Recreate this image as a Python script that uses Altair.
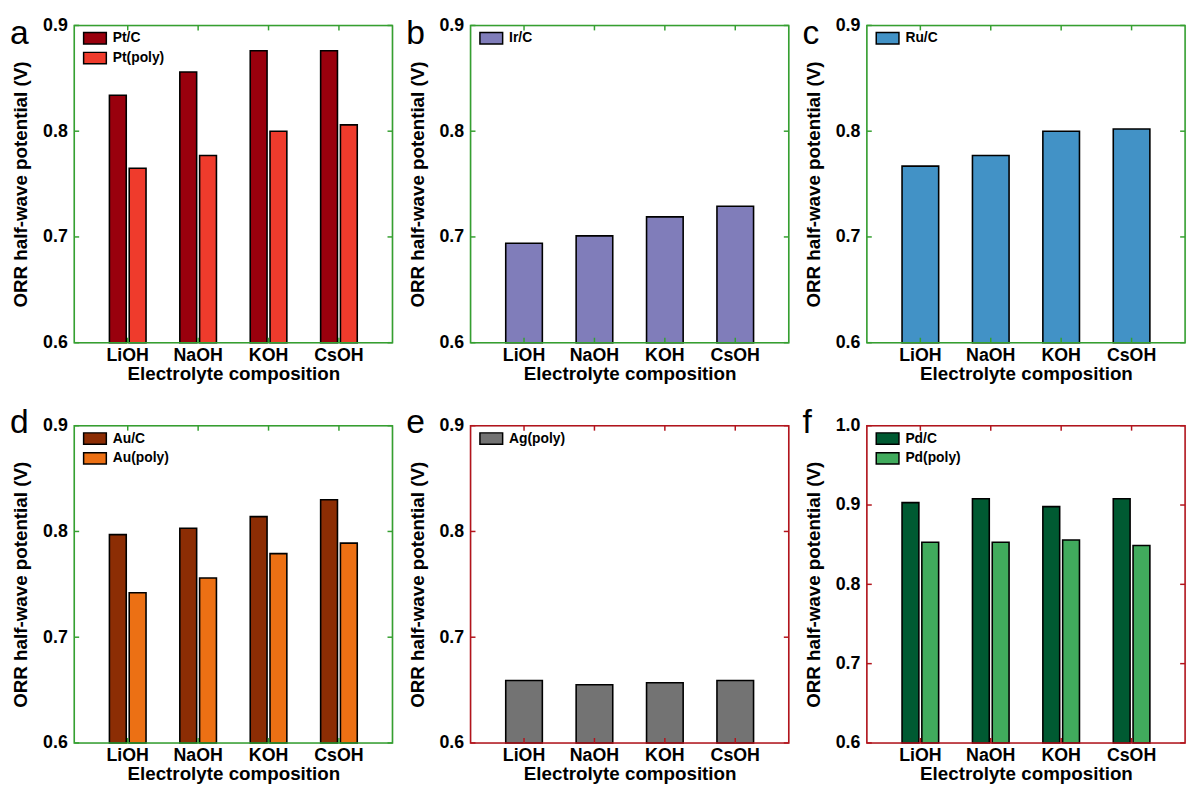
import altair as alt
import pandas as pd

# ---------------- data ----------------
cats = ["LiOH", "NaOH", "KOH", "CsOH"]

pt_c = [0.834, 0.856, 0.876, 0.876]
pt_poly = [0.765, 0.777, 0.800, 0.806]
ir_c = [0.694, 0.701, 0.719, 0.729]
ru_c = [0.767, 0.777, 0.800, 0.802]
au_c = [0.797, 0.803, 0.814, 0.830]
au_poly = [0.742, 0.756, 0.779, 0.789]
ag_poly = [0.659, 0.655, 0.657, 0.659]
pd_c = [0.903, 0.908, 0.898, 0.908]
pd_poly = [0.853, 0.853, 0.856, 0.849]

y_ticks_09 = [0.6, 0.7, 0.8, 0.9]
y_ticks_10 = [0.6, 0.7, 0.8, 0.9, 1.0]

FONT = "Liberation Sans"
W, H = 322, 321
GREEN = "#35A030"
RED = "#B3141C"


def panel(letter, series, colors, yticks, frame_color, letter_y):
    names = [s[0] for s in series]
    rows = []
    for name, vals in series:
        for c, v in zip(cats, vals):
            rows.append({"Electrolyte": c, "Catalyst": name, "V": v})
    df = pd.DataFrame(rows)

    xs = alt.Scale(domain=cats, paddingInner=0.48, paddingOuter=0.5)
    ys = alt.Scale(domain=[yticks[0], yticks[-1]], zero=False, nice=False)
    xaxis = alt.Axis(
        title="Electrolyte composition", labelAngle=0, labelFont=FONT,
        labelFontSize=18, labelFontWeight="bold", labelColor="black",
        labelPadding=4, ticks=False, tickSize=0, domain=False, grid=False,
        titleFont=FONT, titleFontSize=19, titleFontWeight="bold",
        titleColor="black", titlePadding=0,
    )
    yaxis = alt.Axis(
        title="ORR half-wave potential (V)", values=yticks, format=".1f",
        labelFont=FONT, labelFontSize=18, labelFontWeight="bold",
        labelColor="black", labelPadding=7, ticks=False, tickSize=0,
        domain=False, grid=False, titleFont=FONT, titleFontSize=19,
        titleFontWeight="bold", titleColor="black", titlePadding=12,
    )
    xenc = alt.X("Electrolyte:N", sort=cats, scale=xs, axis=xaxis)
    yenc = alt.Y("V:Q", scale=ys, axis=yaxis)

    enc = dict(
        x=xenc,
        y=yenc,
        y2=alt.datum(yticks[0]),
        color=alt.Color(
            "Catalyst:N",
            scale=alt.Scale(domain=names, range=colors),
            legend=alt.Legend(
                title=None, orient="none", legendX=14, legendY=6,
                symbolType="M-2,-1H2V1H-2Z", symbolSize=132,
                symbolStrokeColor="black", symbolStrokeWidth=1.5,
                symbolOpacity=1, labelFont=FONT, labelFontSize=14,
                labelFontWeight="bold", labelColor="black", labelOffset=11,
                rowPadding=2, padding=0,
            ),
        ),
    )
    if len(names) > 1:
        enc["xOffset"] = alt.XOffset(
            "Catalyst:N", sort=names,
            scale=alt.Scale(domain=names, paddingInner=0.15, paddingOuter=0),
        )
    bars = alt.Chart(df).mark_bar(stroke="black", strokeWidth=1.6).encode(**enc)

    one = pd.DataFrame({"k": [0]})
    frame = alt.Chart(one).mark_rect(
        fillOpacity=0, stroke=frame_color, strokeWidth=1.6
    ).encode(x=alt.value(0), x2=alt.value(W), y=alt.value(0), y2=alt.value(H))

    ydf = pd.DataFrame({"V": yticks})
    xdf = pd.DataFrame({"Electrolyte": cats})
    tk = dict(color=frame_color, strokeWidth=1.5)
    lt = alt.Chart(ydf).mark_rule(**tk).encode(y=yenc, x=alt.value(0), x2=alt.value(5))
    rt = alt.Chart(ydf).mark_rule(**tk).encode(y=yenc, x=alt.value(W - 5), x2=alt.value(W))
    tt = alt.Chart(xdf).mark_rule(**tk).encode(x=xenc, y=alt.value(0), y2=alt.value(5))
    bt = alt.Chart(xdf).mark_rule(**tk).encode(x=xenc, y=alt.value(H - 5), y2=alt.value(H))

    lab = alt.Chart(one).mark_text(
        text=letter, font=FONT, fontSize=34, align="left",
        baseline="alphabetic", color="black",
    ).encode(x=alt.value(-65), y=alt.value(letter_y))

    return alt.layer(bars, lt, rt, tt, bt, frame, lab).properties(width=W, height=H)


pa = panel("a", [("Pt/C", pt_c), ("Pt(poly)", pt_poly)], ["#99000D", "#EF3B2C"], y_ticks_09, GREEN, 19)
pb = panel("b", [("Ir/C", ir_c)], ["#807DBA"], y_ticks_09, GREEN, 19)
pc = panel("c", [("Ru/C", ru_c)], ["#4292C6"], y_ticks_09, GREEN, 19)
pdd = panel("d", [("Au/C", au_c), ("Au(poly)", au_poly)], ["#8C2D04", "#EC7014"], y_ticks_09, GREEN, 7)
pe = panel("e", [("Ag(poly)", ag_poly)], ["#737373"], y_ticks_09, RED, 7)
pf = panel("f", [("Pd/C", pd_c), ("Pd(poly)", pd_poly)], ["#005A32", "#41AB5D"], y_ticks_10, RED, 7)

chart = alt.concat(
    pa, pb, pc, pdd, pe, pf, columns=3, spacing={"row": 84, "column": 79},
    bounds="flush",
).resolve_scale(
    x="independent", y="independent", color="independent", xOffset="independent"
).resolve_legend(color="independent").properties(
    padding={"left": 1, "top": 3, "right": 5, "bottom": 5}
).configure_view(stroke="transparent").configure(background="white")

chart.save("out.html", embed_options={"renderer": "svg", "actions": False})
